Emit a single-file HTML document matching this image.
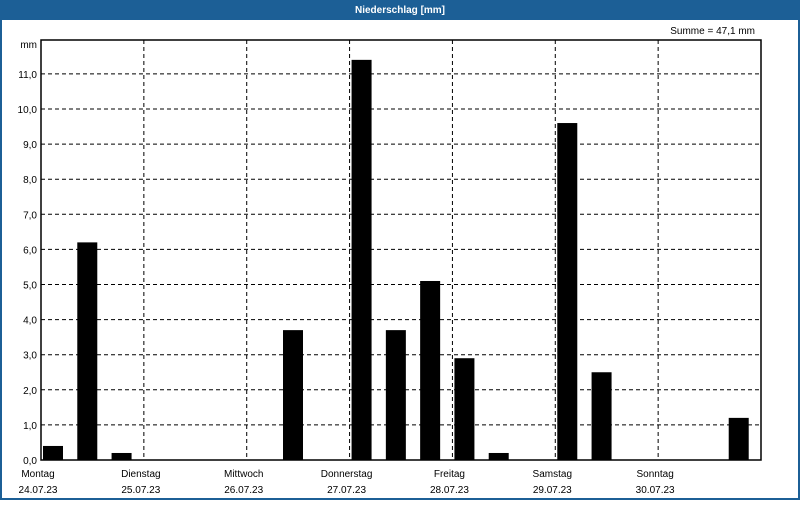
<!DOCTYPE html>
<html><head><meta charset="utf-8"><style>
body{margin:0;width:800px;height:500px;overflow:hidden;background:#fff;font-family:"Liberation Sans",sans-serif}
</style></head><body>
<svg width="800" height="500" xmlns="http://www.w3.org/2000/svg" font-family="Liberation Sans, sans-serif" font-size="10" id="chart">
<rect x="0" y="0" width="800" height="500" fill="#1c5f96"/>
<rect x="2" y="20" width="796" height="478" fill="#fff"/>
<text x="400" y="13" text-anchor="middle" fill="#fff" font-weight="bold">Niederschlag [mm]</text>
<text x="755" y="34" text-anchor="end" fill="#000">Summe = 47,1 mm</text>
<text x="37" y="48" text-anchor="end" fill="#000">mm</text>
<g id="grid"></g><g id="bars"></g><g id="labels"></g>
<rect x="41" y="40" width="720" height="420" fill="none" stroke="#000" stroke-width="1.5"/>
</svg>
<script>
const days=["Montag","Dienstag","Mittwoch","Donnerstag","Freitag","Samstag","Sonntag"];
const dates=["24.07.23","25.07.23","26.07.23","27.07.23","28.07.23","29.07.23","30.07.23"];
const values=[0.4,6.2,0.2,0,0,0,0,3.7,0,11.4,3.7,5.1,2.9,0.2,0,9.6,2.5,0,0,0,1.2];
const yTicks=[0,1,2,3,4,5,6,7,8,9,10,11];
const X0=41,W=720,Y0=460,PX=35.1;
const dayW=W/days.length, slotW=dayW/3;
const y=v=>Y0-v*PX;
const NS="http://www.w3.org/2000/svg";
function mk(tag,attrs,parent){const e=document.createElementNS(NS,tag);for(const k in attrs)e.setAttribute(k,attrs[k]);document.getElementById(parent).appendChild(e);return e;}
yTicks.forEach(t=>{
  if(t>0){const l=mk('line',{x1:X0,x2:X0+W,y1:y(t),y2:y(t),stroke:'#000','stroke-dasharray':'4,3'},'grid');
  
  }
  const tx=mk('text',{x:37,y:y(t)+4,'text-anchor':'end',fill:'#000'},'labels');tx.textContent=t.toFixed(1).replace('.',',');
  
  
});
days.forEach((d,i)=>{
  const gx=X0+i*dayW;
  if(i>0){const l=mk('line',{x1:gx,x2:gx,y1:40,y2:Y0,stroke:'#000','stroke-dasharray':'4,3'},'grid');
  
  }
  const a=mk('text',{x:gx-3,y:477,'text-anchor':'middle',fill:'#000'},'labels');a.textContent=d;
  
  
  const b=mk('text',{x:gx-3,y:493,'text-anchor':'middle',fill:'#000'},'labels');b.textContent=dates[i];
  
  
});
values.forEach((v,i)=>{
  if(v<=0)return;
  const r=mk('rect',{x:X0+i*slotW+2,y:y(v),width:20,height:v*PX,fill:'#000'},'bars');
  
  
});
</script>
</body></html>
